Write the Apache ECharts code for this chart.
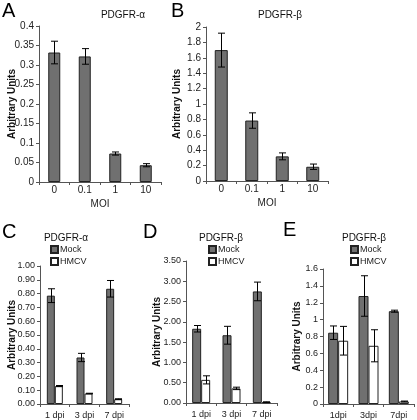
<!DOCTYPE html>
<html><head><meta charset="utf-8">
<script src="https://cdn.jsdelivr.net/npm/echarts@6/dist/echarts.min.js"></script>
<style>html,body{margin:0;padding:0;background:#fff}#c{width:417px;height:420px}</style>
</head><body><div id="c"></div>
<script>
// ---- data ----
const moiCategories = ['0', '0.1', '1', '10'];
const dpiCategoriesCD = ['1 dpi', '3 dpi', '7 dpi'];
const dpiCategoriesE = ['1dpi', '3dpi', '7dpi'];

const aValues = [0.332, 0.322, 0.073, 0.043];
const aErrors = [0.029, 0.02, 0.004, 0.004];

const bValues = [1.70, 0.785, 0.32, 0.185];
const bErrors = [0.22, 0.10, 0.045, 0.035];

const cMock = [0.785, 0.337, 0.835];
const cMockErr = [0.05, 0.03, 0.06];
const cHmcv = [0.13, 0.076, 0.035];
const cHmcvErr = [0.004, 0.002, 0.003];

const dMock = [1.83, 1.67, 2.75];
const dMockErr = [0.08, 0.22, 0.23];
const dHmcv = [0.57, 0.36, 0.02];
const dHmcvErr = [0.10, 0.03, 0.01];

const eMock = [0.845, 1.28, 1.10];
const eMockErr = [0.08, 0.24, 0.012];
const eHmcv = [0.75, 0.69, 0.03];
const eHmcvErr = [0.17, 0.19, 0.005];

// ---- styling ----
const FONT = 'Liberation Sans, Arial, sans-serif';
const GRAY = '#707070';
const EDGE = '#222';

const grids = [
  {left: 39, top: 26, width: 122, height: 156},
  {left: 206, top: 27, width: 122, height: 154},
  {left: 40, top: 266, width: 89, height: 138},
  {left: 186, top: 261, width: 91, height: 142},
  {left: 323, top: 269, width: 91, height: 135}
];

function xAxis(idx, cats, name, fs, margin) {
  return {
    type: 'category', gridIndex: idx, data: cats,
    name: name, nameLocation: 'middle', nameGap: 17, nameMoveOverlap: false,
    nameTextStyle: {fontFamily: FONT, fontSize: 10, color: '#222'},
    axisLine: {lineStyle: {color: '#555', width: 1}},
    axisTick: {show: true, length: 3, lineStyle: {color: '#555'}},
    axisLabel: {fontFamily: FONT, fontSize: fs, color: '#222', margin: margin},
    splitLine: {show: false}
  };
}
function yAxis(idx, max, interval, fs, fmt, gap) {
  return {
    type: 'value', gridIndex: idx, min: 0, max: max, interval: interval,
    name: 'Arbitrary Units', nameLocation: 'middle', nameGap: gap, nameMoveOverlap: false,
    nameTextStyle: {fontFamily: FONT, fontSize: 10, fontWeight: 'bold', color: '#111'},
    axisLine: {show: true, lineStyle: {color: '#555', width: 1}},
    axisTick: {show: true, length: 3, lineStyle: {color: '#555'}},
    axisLabel: {fontFamily: FONT, fontSize: fs, color: '#222', margin: 5, formatter: fmt},
    splitLine: {show: false}
  };
}
function bar(idx, name, vals, fill, width) {
  return {
    type: 'bar', name: name, xAxisIndex: idx, yAxisIndex: idx, data: vals,
    barWidth: width, barGap: '0%',
    itemStyle: {color: fill, borderColor: EDGE, borderWidth: 1},
    emphasis: {disabled: true}, animation: false
  };
}
function err(idx, vals, errs, offset, cap) {
  return {
    type: 'custom', xAxisIndex: idx, yAxisIndex: idx, silent: true, z: 10,
    animation: false,
    data: vals.map((v, i) => [i, v - errs[i], v + errs[i]]),
    renderItem: function (params, api) {
      const lo = api.coord([api.value(0), api.value(1)]);
      const hi = api.coord([api.value(0), api.value(2)]);
      const x = Math.round(lo[0] + offset) + 0.5;
      const st = {stroke: '#000', lineWidth: 1};
      return {type: 'group', children: [
        {type: 'line', shape: {x1: x, y1: lo[1], x2: x, y2: hi[1]}, style: st},
        {type: 'line', shape: {x1: x - cap, y1: hi[1], x2: x + cap, y2: hi[1]}, style: st},
        {type: 'line', shape: {x1: x - cap, y1: lo[1], x2: x + cap, y2: lo[1]}, style: st}
      ]};
    }
  };
}
const f2 = v => v.toFixed(2);
const fd = v => String(+v.toFixed(2));

function legendAt(left, top) {
  return {
    left: left, top: top, orient: 'vertical', itemWidth: 7, itemHeight: 7, itemGap: 3,
    data: [{name: 'Mock', icon: 'rect'}, {name: 'HMCV', icon: 'rect'}],
    textStyle: {fontFamily: FONT, fontSize: 9, color: '#222', padding: [0, 0, 0, -3]},
    selectedMode: false, padding: 0
  };
}
function ttl(text, x, y, size) {
  return {text: text, left: x, top: y, textAlign: 'center', padding: 0,
    textStyle: {fontFamily: FONT, fontSize: size, fontWeight: 'normal', color: '#111'}};
}
function letter(text, x, y) {
  return {text: text, left: x, top: y, padding: 0,
    textStyle: {fontFamily: FONT, fontSize: 20, fontWeight: 'normal', color: '#000'}};
}

const option = {
  backgroundColor: '#fff',
  animation: false,
  title: [
    letter('A', 2, 1), letter('B', 171, 1), letter('C', 2, 222),
    letter('D', 143, 222), letter('E', 283, 220),
    ttl('PDGFR-α', 123, 10, 10),
    ttl('PDGFR-β', 280, 10, 10),
    ttl('PDGFR-α', 66, 233, 10),
    ttl('PDGFR-β', 221, 233, 10),
    ttl('PDGFR-β', 364, 233, 10)
  ],
  legend: [legendAt(50, 245), legendAt(208, 245), legendAt(350, 245)],
  grid: grids,
  xAxis: [
    xAxis(0, moiCategories, 'MOI', 10, 3),
    xAxis(1, moiCategories, 'MOI', 10, 3),
    xAxis(2, dpiCategoriesCD, '', 9, 7),
    xAxis(3, dpiCategoriesCD, '', 9, 7),
    xAxis(4, dpiCategoriesE, '', 9, 7)
  ],
  yAxis: [
    yAxis(0, 0.4, 0.05, 10, fd, 22),
    yAxis(1, 2, 0.2, 10, fd, 24),
    yAxis(2, 1, 0.1, 9, f2, 23),
    yAxis(3, 3.5, 0.5, 9, f2, 24),
    yAxis(4, 1.6, 0.2, 9, fd, 21)
  ],
  series: [
    bar(0, 'PDGFR-α MOI', aValues, GRAY, 12),
    err(0, aValues, aErrors, 0, 3.5),
    bar(1, 'PDGFR-β MOI', bValues, GRAY, 13),
    err(1, bValues, bErrors, 0, 3.5),

    bar(2, 'Mock', cMock, GRAY, 8),
    bar(2, 'HMCV', cHmcv, '#fff', 8),
    err(2, cMock, cMockErr, -4, 3.5),
    err(2, cHmcv, cHmcvErr, 4, 3.5),

    bar(3, 'Mock', dMock, GRAY, 9),
    bar(3, 'HMCV', dHmcv, '#fff', 9),
    err(3, dMock, dMockErr, -4.5, 3.5),
    err(3, dHmcv, dHmcvErr, 4.5, 3.5),

    bar(4, 'Mock', eMock, GRAY, 10),
    bar(4, 'HMCV', eHmcv, '#fff', 10),
    err(4, eMock, eMockErr, -5, 3.5),
    err(4, eHmcv, eHmcvErr, 5, 3.5)
  ]
};
const chart = echarts.init(document.getElementById('c'), null, {renderer: 'canvas'});
chart.setOption(option);
</script>
</body></html>
